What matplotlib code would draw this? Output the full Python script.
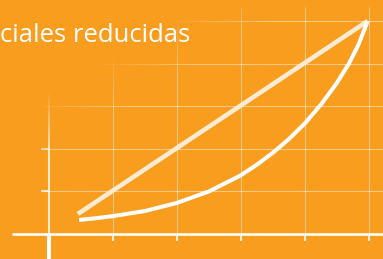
import numpy as np
import matplotlib
matplotlib.use("Agg")
import matplotlib.pyplot as plt

# datos (unidades de la cuadrícula)
curva_x = [0.47, 0.73, 1.00, 1.50, 2.00, 2.50, 3.00, 3.25, 3.50, 3.75,
           4.00, 4.25, 4.50, 4.69, 4.84, 4.98]
curva_y = [0.33, 0.37, 0.42, 0.54, 0.73, 1.00, 1.38, 1.63, 1.91, 2.23,
           2.60, 3.04, 3.55, 4.01, 4.46, 5.00]
recta_x = [0.45, 4.98]
recta_y = [0.47, 5.00]
grid_x = [1, 2, 3, 4, 5]
grid_y = [1, 2, 3, 4, 5]
ticks_y = [1, 2]
texto = "ciales reducidas"

NARANJA = "#F89D1E"
W, H = 383, 259

fig = plt.figure(figsize=(W / 100, H / 100), dpi=100)
fig.patch.set_facecolor(NARANJA)
ax = fig.add_axes([0, 0, 1, 1])
ax.set_facecolor(NARANJA)
ax.axis("off")

xmin, xmax = -49 / 64, 334 / 64
ymin, ymax = -25 / 42.6, 234 / 42.6
ax.set_xlim(xmin, xmax)
ax.set_ylim(ymin, ymax)

# cuadrícula
ax.vlines(grid_x, 0, 5.33, color="white", alpha=0.45, lw=0.8, zorder=1)
ax.hlines(grid_y, -0.1, xmax, color="white", alpha=0.45, lw=0.8, zorder=1)

# ejes
ax.plot([0, 0], [0, 5.3], color="white", alpha=0.8, lw=1.5, zorder=1,
        solid_capstyle="butt")
ax.plot([0, 0], [ymin, 0], color="white", lw=3.0, zorder=1,
        solid_capstyle="butt")
ax.plot([-0.58, xmax], [0, 0], color="white", lw=1.9, zorder=1,
        solid_capstyle="butt")
ax.vlines(grid_x, -0.16, 0, color="white", alpha=0.85, lw=1.5, zorder=1)
ax.hlines(ticks_y, -0.13, 0, color="white", alpha=0.7, lw=1.5, zorder=1)

# desvanecido hacia arriba a la izquierda
py, px = np.mgrid[0:H, 0:W]
s = py + 0.6 * px
alfa = np.clip((185 - s) / (185 - 120), 0, 1)
rgba = np.zeros((H, W, 4))
rgba[..., :3] = matplotlib.colors.to_rgb(NARANJA)
rgba[..., 3] = alfa
ax.imshow(rgba, extent=(xmin, xmax, ymin, ymax), origin="upper",
          aspect="auto", zorder=2, interpolation="bilinear")

# líneas
ax.plot(recta_x, recta_y, color="#FDEBD2", lw=3.3, zorder=3,
        solid_capstyle="butt")
ax.plot(curva_x, curva_y, color="white", lw=2.9, zorder=4,
        solid_capstyle="butt", solid_joinstyle="round")

fig.text(0.0, 1 - 42 / H, texto, color="white", fontsize=18.5,
         family="Open Sans", va="baseline", ha="left")

fig.savefig("out.png", dpi=100, facecolor=NARANJA)
